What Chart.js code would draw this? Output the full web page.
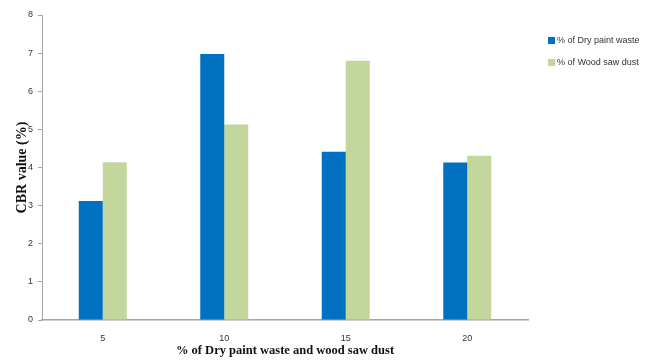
<!DOCTYPE html>
<html>
<head>
<meta charset="utf-8">
<script src="https://cdn.jsdelivr.net/npm/chart.js@4/dist/chart.umd.min.js"></script>
<style>
  html, body { margin: 0; padding: 0; background: #fff; }
  #wrap { width: 646px; height: 362px; position: relative; }
  #legend { position: absolute; left: 548px; top: 34px; font: 9px 'Liberation Sans', Arial, sans-serif; color: #333; }
  #legend .item { height: 12px; line-height: 12px; margin-bottom: 10px; white-space: nowrap; }
  #legend .sw { display: inline-block; width: 7px; height: 7px; margin-right: 2px; vertical-align: -0.5px; }
</style>
</head>
<body>
<div id="wrap"><canvas id="c" width="646" height="362"></canvas><div id="legend"></div></div>
<script>
// Replacement percentage (x axis categories)
const categories = ['5', '10', '15', '20'];
// CBR values (%) for each additive
const dryPaintWaste = [3.12, 6.98, 4.41, 4.13];
const woodSawDust = [4.14, 5.13, 6.8, 4.31];
const seriesNames = ['% of Dry paint waste', '% of Wood saw dust'];
const seriesColors = ['#0070c0', '#c3d69b'];

const axisGrey = '#a6a6a6';
const tickFont = { family: 'Liberation Sans', size: 9 };

const chart = new Chart(document.getElementById('c'), {
  type: 'bar',
  data: {
    labels: categories,
    datasets: [
      { label: seriesNames[0], data: dryPaintWaste, backgroundColor: seriesColors[0],
        categoryPercentage: 0.395, barPercentage: 1.0 },
      { label: seriesNames[1], data: woodSawDust, backgroundColor: seriesColors[1],
        categoryPercentage: 0.395, barPercentage: 1.0 }
    ]
  },
  options: {
    responsive: false,
    animation: false,
    layout: { padding: { top: 15, left: 0, right: 118, bottom: 0 } },
    plugins: {
      legend: { display: false },
      tooltip: { enabled: false }
    },
    scales: {
      x: {
        grid: { display: false },
        border: { color: axisGrey, width: 1.5 },
        ticks: { color: '#333', font: tickFont, padding: 5 },
        title: { display: true, text: '% of Dry paint waste and wood saw dust',
          color: '#111', font: { family: 'Liberation Serif', size: 12.5, weight: 'bold' }, padding: { top: 4 } },
        afterFit(s) { s.height = 42; }
      },
      y: {
        min: 0, max: 8,
        ticks: { stepSize: 1, color: '#333', font: tickFont, padding: 5 },
        grid: { drawOnChartArea: false, tickLength: 4, color: axisGrey },
        border: { color: axisGrey },
        title: { display: true, text: 'CBR value (%)',
          color: '#111', font: { family: 'Liberation Serif', size: 14, weight: 'bold' }, padding: { top: 14, bottom: 0 } },
        afterFit(s) { s.width = 42; }
      }
    }
  }
});

// HTML legend built from the dataset names and colours
const legendEl = document.getElementById('legend');
chart.data.datasets.forEach(ds => {
  const item = document.createElement('div');
  item.className = 'item';
  const sw = document.createElement('span');
  sw.className = 'sw';
  sw.style.background = ds.backgroundColor;
  item.appendChild(sw);
  item.appendChild(document.createTextNode(ds.label));
  legendEl.appendChild(item);
});
</script>
</body>
</html>
